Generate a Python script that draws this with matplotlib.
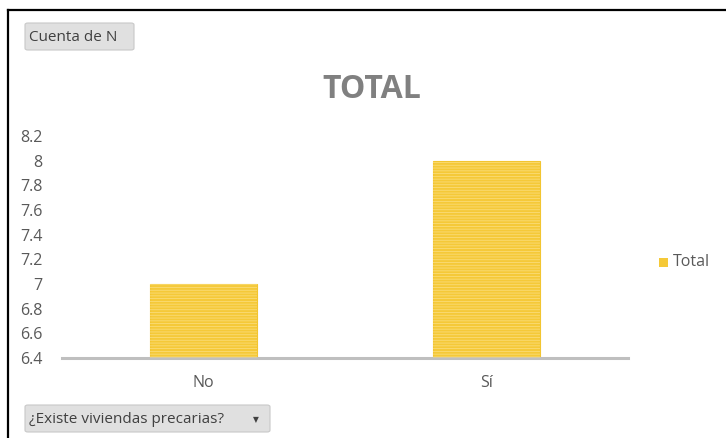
import matplotlib
matplotlib.use("Agg")
import matplotlib.pyplot as plt
from matplotlib.patches import FancyBboxPatch, Rectangle
from matplotlib.lines import Line2D

categories = ["No", "Sí"]
values = [7, 8]
yticks = [6.4, 6.6, 6.8, 7.0, 7.2, 7.4, 7.6, 7.8, 8.0, 8.2]
ytick_labels = ["6.4", "6.6", "6.8", "7", "7.2", "7.4", "7.6", "7.8", "8", "8.2"]
series_name = "Total"
title = "TOTAL"
filter_label = "Cuenta de N"
axis_field = "¿Existe viviendas precarias?"

W, H = 726, 438
plt.rcParams['font.family'] = ['Open Sans', 'DejaVu Sans']

fig = plt.figure(figsize=(W / 100, H / 100), dpi=100)
fig.patch.set_facecolor("white")

def fx(px):
    return px / W

def fy(py):
    return 1 - py / H

ax = fig.add_axes([fx(62), fy(358), fx(628) - fx(62), fy(136) - fy(358)])
x = list(range(len(categories)))
bar_color = "#F5C938"
ax.bar(x, values, width=0.38, bottom=0, color=bar_color, edgecolor="#F2C530",
       linewidth=0.8, zorder=2)
plt.rcParams['hatch.linewidth'] = 0.6
ax.bar(x, values, width=0.38, bottom=0, facecolor="none", edgecolor="#FADC78",
       hatch="------", linewidth=0, zorder=3)
ax.set_xlim(-0.5, 1.5)
ax.set_ylim(6.4, 8.2)
ax.set_yticks(yticks)
ax.set_yticklabels(ytick_labels)
ax.set_xticks(x)
ax.set_xticklabels(categories)
for s in ["top", "right", "left"]:
    ax.spines[s].set_visible(False)
ax.spines["bottom"].set_color("#BFBFBF")
ax.spines["bottom"].set_linewidth(2.2)
ax.tick_params(axis="both", length=0, labelsize=11.5, labelcolor="#595959")
ax.tick_params(axis="y", pad=14)
ax.tick_params(axis="x", pad=12)
for lbl in ax.get_yticklabels():
    lbl.set_horizontalalignment("right")

# title
fig.text(fx(372), fy(90), title, ha="center", va="center", fontsize=23,
         fontweight="bold", color="#808080")

# legend
fig.patches.append(Rectangle((fx(659), fy(267)), fx(9), fy(258) - fy(267),
                             transform=fig.transFigure, facecolor=bar_color,
                             edgecolor="none"))
fig.text(fx(673), fy(262), series_name, ha="left", va="center", fontsize=11.5,
         color="#595959")

# frame
fig.add_artist(Line2D([fx(8), fx(8)], [fy(10), fy(438)], transform=fig.transFigure,
                      color="black", linewidth=1.6))
fig.add_artist(Line2D([fx(8), fx(726)], [fy(10), fy(10)], transform=fig.transFigure,
                      color="black", linewidth=1.6))

# buttons
def button(x0, y0, x1, y1, text, arrow=False):
    b = FancyBboxPatch((fx(x0), fy(y1)), fx(x1) - fx(x0), fy(y0) - fy(y1),
                       boxstyle="round,pad=0,rounding_size=0.004",
                       transform=fig.transFigure, facecolor="#E0E0E0",
                       edgecolor="#C8C8C8", linewidth=0.8)
    fig.patches.append(b)
    fig.text(fx(x0 + 4), fy((y0 + y1) / 2 + 1), text, ha="left", va="center",
             fontsize=11, color="#404040")
    if arrow:
        fig.text(fx(x1 - 14), fy((y0 + y1) / 2 + 1), "▼", ha="center", va="center",
                 fontsize=5.5, color="#404040", family=["DejaVu Sans"])

button(25, 23, 134, 50, filter_label)
button(25, 405, 270, 432, axis_field, arrow=True)

fig.savefig("out.png", dpi=100)
